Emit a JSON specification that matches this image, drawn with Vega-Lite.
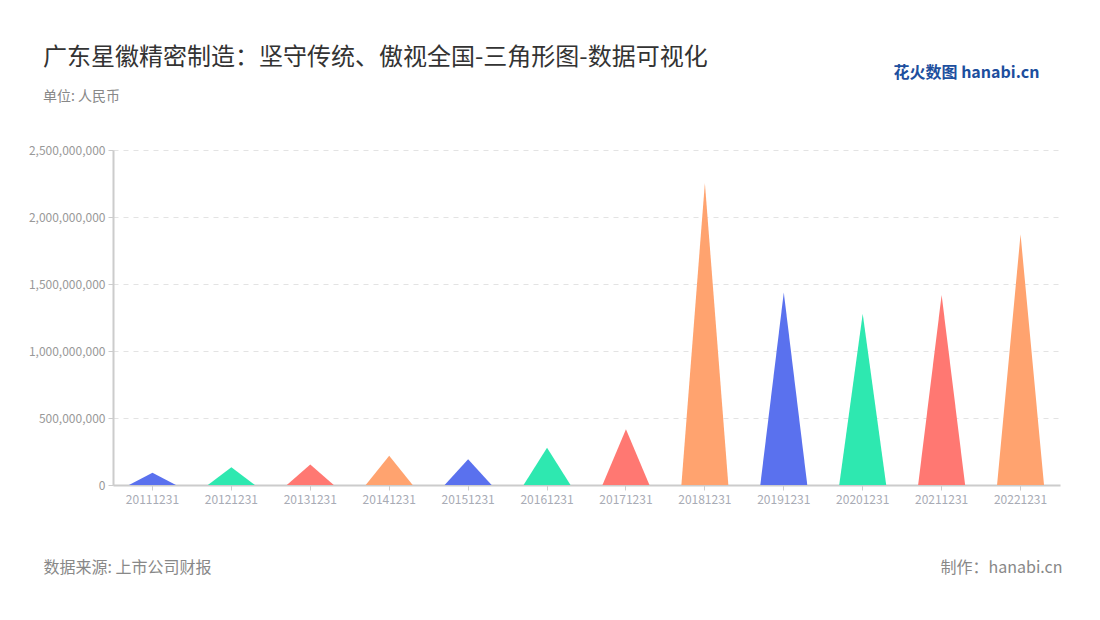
{
  "$schema": "https://vega.github.io/schema/vega-lite/v6.json",
  "autosize": "none",
  "width": 947,
  "height": 335,
  "padding": {"left": 113, "top": 150, "right": 40, "bottom": 135},
  "background": "white",
  "config": {
    "font": "Noto Sans CJK SC",
    "view": {"stroke": null}
  },
  "title": {
    "text": "广东星徽精密制造：坚守传统、傲视全国-三角形图-数据可视化",
    "subtitle": "单位: 人民币",
    "anchor": "start",
    "frame": "group",
    "dx": -70,
    "dy": 86,
    "offset": 46,
    "fontSize": 24,
    "fontWeight": "normal",
    "color": "#333333",
    "subtitleFontSize": 14,
    "subtitleColor": "#888888",
    "subtitlePadding": 20
  },
  "data": {
    "values": [
      {"date": "20111231", "part": "l", "value": 0}, {"date": "20111231", "part": "m", "value": 91000000}, {"date": "20111231", "part": "r", "value": 0},
      {"date": "20121231", "part": "l", "value": 0}, {"date": "20121231", "part": "m", "value": 133000000}, {"date": "20121231", "part": "r", "value": 0},
      {"date": "20131231", "part": "l", "value": 0}, {"date": "20131231", "part": "m", "value": 153000000}, {"date": "20131231", "part": "r", "value": 0},
      {"date": "20141231", "part": "l", "value": 0}, {"date": "20141231", "part": "m", "value": 218000000}, {"date": "20141231", "part": "r", "value": 0},
      {"date": "20151231", "part": "l", "value": 0}, {"date": "20151231", "part": "m", "value": 193000000}, {"date": "20151231", "part": "r", "value": 0},
      {"date": "20161231", "part": "l", "value": 0}, {"date": "20161231", "part": "m", "value": 278000000}, {"date": "20161231", "part": "r", "value": 0},
      {"date": "20171231", "part": "l", "value": 0}, {"date": "20171231", "part": "m", "value": 416000000}, {"date": "20171231", "part": "r", "value": 0},
      {"date": "20181231", "part": "l", "value": 0}, {"date": "20181231", "part": "m", "value": 2254000000}, {"date": "20181231", "part": "r", "value": 0},
      {"date": "20191231", "part": "l", "value": 0}, {"date": "20191231", "part": "m", "value": 1437000000}, {"date": "20191231", "part": "r", "value": 0},
      {"date": "20201231", "part": "l", "value": 0}, {"date": "20201231", "part": "m", "value": 1278000000}, {"date": "20201231", "part": "r", "value": 0},
      {"date": "20211231", "part": "l", "value": 0}, {"date": "20211231", "part": "m", "value": 1417000000}, {"date": "20211231", "part": "r", "value": 0},
      {"date": "20221231", "part": "l", "value": 0}, {"date": "20221231", "part": "m", "value": 1871000000}, {"date": "20221231", "part": "r", "value": 0}
    ]
  },
  "layer": [
    {
      "mark": {"type": "area", "interpolate": "linear"},
      "encoding": {
        "x": {
          "field": "date", "type": "nominal", "sort": null,
          "scale": {"paddingInner": 0, "paddingOuter": 0},
          "axis": {
            "labelAngle": 0, "labelColor": "#a8abb5", "labelFontSize": 12, "labelPadding": 4,
            "domainColor": "#cccccc", "domainWidth": 2, "tickColor": "#cccccc", "tickSize": 5,
            "title": "数据来源: 上市公司财报", "titleFontSize": 16, "titleFontWeight": "normal",
            "titleColor": "#888888", "titleAnchor": "start", "titleAlign": "left", "titleBaseline": "middle",
            "titleX": -70, "titleY": 82
          }
        },
        "xOffset": {
          "field": "part", "type": "nominal", "sort": ["l", "m", "r"],
          "scale": {"paddingInner": 0, "paddingOuter": 0.68}
        },
        "y": {
          "field": "value", "type": "quantitative", "stack": null,
          "scale": {"domain": [0, 2500000000], "nice": false},
          "axis": {
            "values": [0, 500000000, 1000000000, 1500000000, 2000000000, 2500000000],
            "format": ",d", "labelColor": "#999999", "labelFontSize": 12, "labelPadding": 3,
            "domainColor": "#cccccc", "domainWidth": 2, "tickColor": "#cccccc", "tickSize": 5,
            "grid": true, "gridColor": "#e3e3e3", "gridDash": [5, 5], "gridWidth": 1.2,
            "title": null
          }
        },
        "color": {
          "field": "date", "type": "nominal", "legend": null,
          "scale": {
            "domain": ["20111231", "20121231", "20131231", "20141231", "20151231", "20161231", "20171231", "20181231", "20191231", "20201231", "20211231", "20221231"],
            "range": ["#5a71ee", "#2ee8b0", "#ff7872", "#ffa36f", "#5a71ee", "#2ee8b0", "#ff7872", "#ffa36f", "#5a71ee", "#2ee8b0", "#ff7872", "#ffa36f"]
          }
        }
      }
    },
    {
      "mark": {"type": "point", "opacity": 0},
      "encoding": {
        "x": {
          "field": "date", "type": "nominal", "sort": null,
          "axis": {
            "orient": "bottom",
            "labels": false, "ticks": false, "domain": false,
            "title": "制作：hanabi.cn", "titleFontSize": 16, "titleFontWeight": "normal",
            "titleColor": "#888888", "titleAnchor": "start", "titleAlign": "right", "titleBaseline": "middle",
            "titleX": 949, "titleY": 82
          }
        },
        "y": {
          "field": "value", "type": "quantitative",
          "scale": {"domain": [0, 2500000000], "nice": false},
          "axis": {
            "orient": "right", "labels": false, "ticks": false, "domain": false, "grid": false,
            "title": "花火数图 hanabi.cn", "titleAngle": 0, "titleFontSize": 16, "titleFontWeight": "bold",
            "titleColor": "#1d4f9e", "titleAlign": "left", "titleBaseline": "middle",
            "titleX": -167, "titleY": -78
          }
        }
      }
    }
  ],
  "resolve": {"axis": {"x": "independent", "y": "independent"}}
}
